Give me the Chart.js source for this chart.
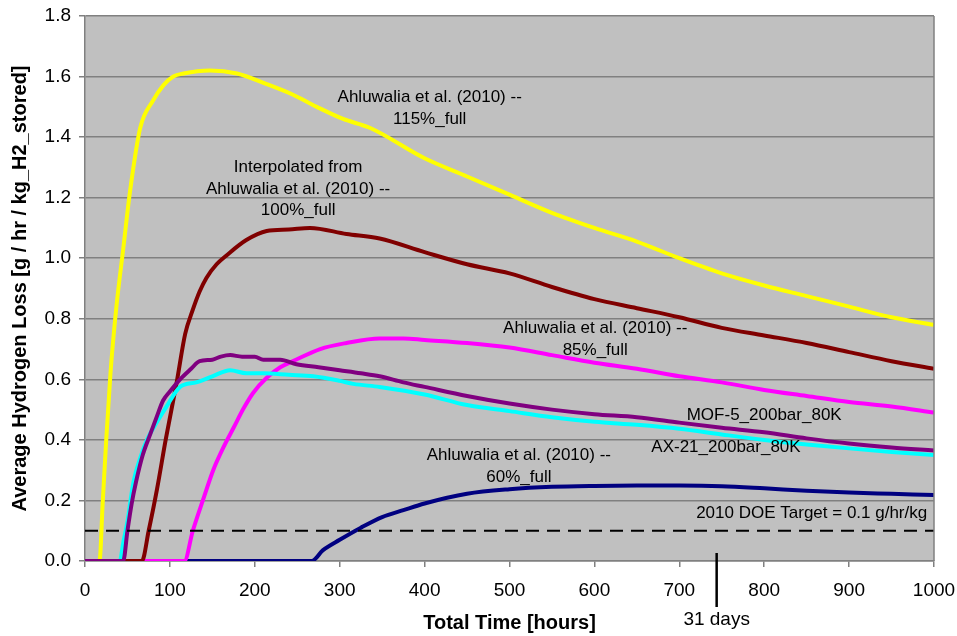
<!DOCTYPE html>
<html>
<head>
<meta charset="utf-8">
<script src="https://cdn.jsdelivr.net/npm/chart.js@4.4.1/dist/chart.umd.min.js"></script>
<style>
  body { margin: 0; background: #fff; }
  canvas { display: block; }
</style>
</head>
<body>
<canvas id="grafico" width="957" height="636"></canvas>
<script>
// valores (horas / g/hr/kg)
const horasY115 = [0,17,21,25,30,37,45,53,65,80,92,104,116,147,179,214,245,273,304,336,400,450,500,550,600,650,700,750,800,850,900,950,1000];
const perdaY115 = [0,0,0.2,0.40,0.62,0.84,1.03,1.22,1.43,1.52,1.57,1.60,1.61,1.62,1.61,1.575,1.54,1.50,1.46,1.43,1.33,1.27,1.21,1.15,1.10,1.055,1.00,0.95,0.91,0.875,0.84,0.805,0.78];

const horas100 = [0,67,75,85,95,108,118,127,135,143,155,167,190,214,240,265,308,347,400,450,500,550,600,650,700,750,800,850,900,950,1000];
const perda100 = [0,0,0.10,0.24,0.40,0.59,0.75,0.83,0.89,0.935,0.98,1.01,1.06,1.09,1.095,1.10,1.08,1.065,1.02,0.98,0.95,0.905,0.865,0.835,0.805,0.77,0.745,0.72,0.69,0.66,0.635];

const horas85 = [0,117,127,140,151,163,175,187,198,214,230,245,277,308,347,375,400,450,500,550,600,650,700,750,800,850,900,950,1000];
const perda85 = [0,0,0.10,0.21,0.30,0.375,0.44,0.505,0.555,0.605,0.64,0.66,0.70,0.72,0.735,0.735,0.73,0.72,0.705,0.68,0.655,0.635,0.61,0.59,0.565,0.545,0.525,0.51,0.49];

const horas60 = [0,267,280,300,325,350,375,400,450,500,550,600,650,700,750,800,850,900,950,1000];
const perda60 = [0,0,0.035,0.07,0.11,0.145,0.168,0.19,0.222,0.237,0.245,0.248,0.249,0.249,0.247,0.24,0.232,0.226,0.222,0.218];

const horasMOF = [0,45,50,55,60,68,77,85,92,100,112,125,135,150,160,171,185,200,210,230,249,275,300,325,347,375,400,450,500,550,600,650,700,750,800,850,900,950,1000];
const perdaMOF = [0,0,0.10,0.19,0.26,0.35,0.42,0.48,0.53,0.56,0.60,0.635,0.66,0.665,0.675,0.68,0.675,0.675,0.665,0.665,0.65,0.64,0.63,0.62,0.61,0.59,0.575,0.545,0.52,0.50,0.485,0.475,0.457,0.44,0.425,0.405,0.388,0.375,0.365];

const horasAX = [0,41,45,50,57,65,73,85,96,112,131,150,171,190,210,240,269,300,316,347,400,450,500,550,600,650,700,750,800,850,900,950,1000];
const perdaAX = [0,0,0.06,0.13,0.26,0.34,0.40,0.46,0.51,0.575,0.59,0.61,0.63,0.62,0.62,0.615,0.61,0.595,0.585,0.575,0.55,0.515,0.495,0.475,0.46,0.45,0.437,0.418,0.40,0.385,0.372,0.36,0.35];

const horasMeta = [0, 1000];
const perdaMeta = [0.1, 0.1];

const marcaHoras = 744;   // 31 dias
const marcaTexto = '31 days';

// notas dentro do grafico (posicao em horas / valor da 1a linha)
const notasTexto = [
  ['Ahluwalia et al. (2010) --', '115%_full'],
  ['Interpolated from', 'Ahluwalia et al. (2010) --', '100%_full'],
  ['Ahluwalia et al. (2010) --', '85%_full'],
  ['MOF-5_200bar_80K'],
  ['AX-21_200bar_80K'],
  ['Ahluwalia et al. (2010) --', '60%_full']
];
const notasHoras = [406, 251, 601, 800, 755, 511];
const notasPerda = [1.531, 1.30, 0.767, 0.481, 0.377, 0.349];
const metaTexto = '2010 DOE Target = 0.1 g/hr/kg';

const FONTE = '"Liberation Sans", Arial, sans-serif';

function pontos(hs, vs) {
  return hs.map((h, i) => ({ x: h, y: vs[i] }));
}

function serie(label, hs, vs, cor) {
  return {
    label, data: pontos(hs, vs), borderColor: cor, backgroundColor: cor,
    borderWidth: 4, pointRadius: 0, fill: false,
    cubicInterpolationMode: 'monotone'
  };
}

const fundoPlugin = {
  id: 'fundo',
  beforeDraw(chart) {
    const { ctx, chartArea: a } = chart;
    ctx.save();
    ctx.fillStyle = '#c0c0c0';
    ctx.fillRect(a.left, a.top, a.right - a.left, a.bottom - a.top);
    ctx.restore();
  },
  afterDraw(chart) {
    const { ctx, chartArea: a, scales } = chart;
    ctx.save();
    ctx.strokeStyle = '#808080';
    ctx.lineWidth = 1.5;
    ctx.beginPath();
    ctx.moveTo(a.right, a.top);
    ctx.lineTo(a.right, a.bottom);
    ctx.stroke();

    ctx.fillStyle = '#000';
    ctx.font = '17px ' + FONTE;
    ctx.textAlign = 'center';
    ctx.textBaseline = 'middle';
    notasTexto.forEach((linhas, i) => {
      const x = scales.x.getPixelForValue(notasHoras[i]);
      const y = scales.y.getPixelForValue(notasPerda[i]);
      linhas.forEach((t, j) => ctx.fillText(t, x, y + j * 21.5));
    });
    ctx.textAlign = 'right';
    ctx.fillText(metaTexto, scales.x.getPixelForValue(992), scales.y.getPixelForValue(0.158));

    // marca de 31 dias
    const mx = scales.x.getPixelForValue(marcaHoras);
    ctx.strokeStyle = '#000';
    ctx.lineWidth = 2.5;
    ctx.beginPath();
    ctx.moveTo(mx, a.bottom - 8);
    ctx.lineTo(mx, a.bottom + 46);
    ctx.stroke();
    ctx.textAlign = 'center';
    ctx.font = '19px ' + FONTE;
    ctx.fillText(marcaTexto, mx, a.bottom + 59);
    ctx.restore();
  }
};

new Chart(document.getElementById('grafico'), {
  type: 'line',
  data: {
    datasets: [
      { label: 'DOE', data: pontos(horasMeta, perdaMeta), borderColor: '#000', borderWidth: 2,
        borderDash: [13, 8], pointRadius: 0, fill: false },
      serie('MOF-5_200bar_80K', horasMOF, perdaMOF, '#800080'),
      serie('AX-21_200bar_80K', horasAX, perdaAX, '#00ffff'),
      serie('100%_full', horas100, perda100, '#800000'),
      serie('115%_full', horasY115, perdaY115, '#ffff00'),
      serie('85%_full', horas85, perda85, '#ff00ff'),
      serie('60%_full', horas60, perda60, '#000080')
    ]
  },
  options: {
    responsive: false,
    animation: false,
    layout: { padding: { top: 16, right: 23, bottom: 0, left: 0 } },
    plugins: { legend: { display: false }, tooltip: { enabled: false } },
    scales: {
      x: {
        type: 'linear', min: 0, max: 1000,
        afterFit: s => { s.height = 75; s.paddingLeft = 0; s.paddingRight = 0; },
        ticks: { stepSize: 100, color: '#000', padding: 12, maxRotation: 0,
          font: { family: FONTE, size: 19 }, callback: v => String(v) },
        grid: { drawOnChartArea: false, color: '#808080', tickLength: 6, lineWidth: 1.5 },
        border: { color: '#808080', width: 1.5 },
        title: { display: true, text: 'Total Time [hours]', color: '#000',
          font: { family: FONTE, size: 20, weight: 'bold' }, padding: { top: 0, bottom: 1 } }
      },
      y: {
        min: 0, max: 1.8,
        afterFit: s => { s.width = 85; s.paddingTop = 0; s.paddingBottom = 0; },
        ticks: { stepSize: 0.2, color: '#000', padding: 8,
          font: { family: FONTE, size: 19 }, callback: v => v.toFixed(1) },
        grid: { color: '#808080', tickLength: 6, lineWidth: 1.5 },
        border: { color: '#808080', width: 1.5 },
        title: { display: true, text: 'Average Hydrogen Loss [g / hr / kg_H2_stored]', color: '#000',
          font: { family: FONTE, size: 20, weight: 'bold' }, padding: { top: 8, bottom: 0 } }
      }
    }
  },
  plugins: [fundoPlugin]
});
</script>
</body>
</html>
